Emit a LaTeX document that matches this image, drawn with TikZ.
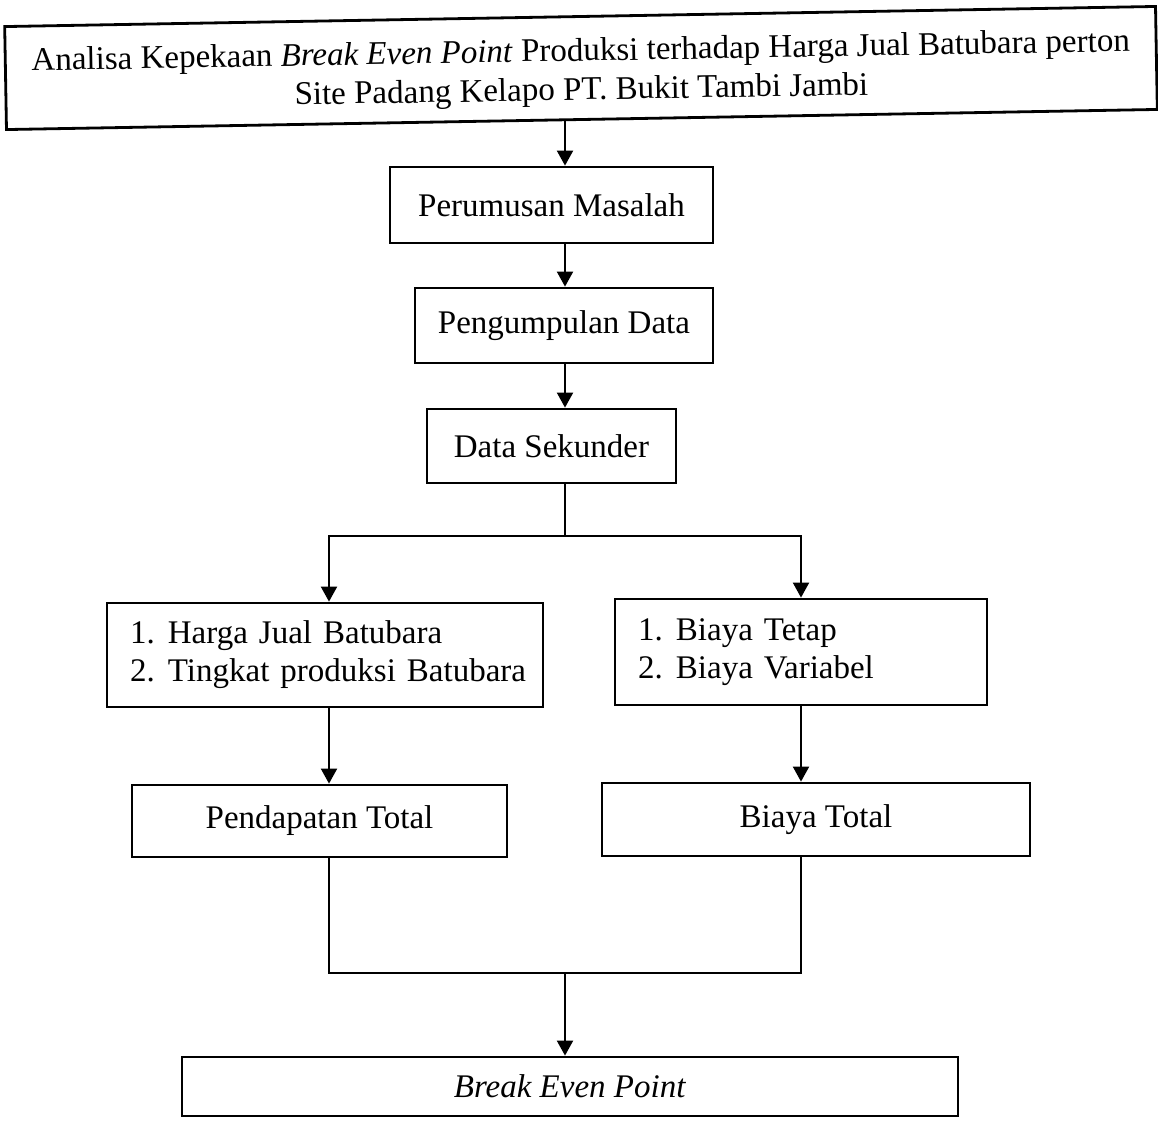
\documentclass[tikz,border=0pt]{standalone}
\usepackage{fontspec}
\setmainfont{Liberation Serif}
\usetikzlibrary{arrows.meta}

\newcommand{\numitem}[2]{\mbox{\makebox[1.15em][l]{#1.}#2}}

\begin{document}
\begin{tikzpicture}[x=0.5pt, y=-0.5pt,
    box/.style={draw, line width=1.4pt, inner sep=0pt, font=\fontsize{16.5}{18}\selectfont},
    listbox/.style={box, align=left, inner xsep=11.5pt, font=\fontsize{16.5}{19}\selectfont},
    link/.style={line width=1pt},
    arrow/.style={link, -{Triangle[length=7.5pt, width=8pt]}}]

    \useasboundingbox (0, 0) rectangle (1158, 1121);

    % Declare the boxes
    \node[box, minimum width=575.5pt, minimum height=51.5pt, align=center, rotate=1,
          font=\fontsize{16.5}{19.5}\selectfont] at (581, 68) (judul)
        {\rule{0pt}{16pt}Analisa Kepekaan \textit{Break Even Point} Produksi terhadap Harga Jual Batubara perton\\
         Site Padang Kelapo PT. Bukit Tambi Jambi};
    \node[box, minimum width=161.5pt, minimum height=38pt] at (551.5, 205) (rumusan) {Perumusan Masalah};
    \node[box, minimum width=149pt, minimum height=37.5pt] at (564, 325.5) (kumpul) {Pengumpulan Data};
    \node[box, minimum width=124.5pt, minimum height=37pt] at (551.5, 446) (sekunder) {Data Sekunder};
    \node[listbox, text width=195pt, minimum height=52pt] at (325, 655) (harga)
        {\numitem{1}{Harga Jual Batubara}\\ \numitem{2}{Tingkat produksi Batubara}};
    \node[listbox, text width=163pt, minimum height=53pt] at (801, 652) (biaya)
        {\numitem{1}{Biaya Tetap}\\ \numitem{2}{Biaya Variabel}};
    \node[box, minimum width=187.5pt, minimum height=36pt] at (319.5, 821) (pendapatan) {Pendapatan Total};
    \node[box, minimum width=214pt, minimum height=36.5pt] at (816, 819.5) (total) {Biaya Total};
    \node[box, minimum width=388pt, minimum height=29.5pt] at (570, 1086.5) (bep) {\textit{Break Even Point}};

    % Declare the lanes
    \coordinate (spine) at (565, 0);
    \coordinate (lanekiri) at (329, 0);
    \coordinate (lanekanan) at (801, 0);
    \coordinate (cabang) at (565, 536);
    \coordinate (gabung) at (565, 973);

    % Declare edges
    \draw[arrow] (judul.south -| spine) -- (rumusan.north -| spine);
    \draw[arrow] (rumusan.south -| spine) -- (kumpul.north -| spine);
    \draw[arrow] (kumpul.south -| spine) -- (sekunder.north -| spine);
    \draw[link] (sekunder.south -| spine) -- (cabang);
    \draw[arrow] (cabang) -| (harga.north -| lanekiri);
    \draw[arrow] (cabang) -| (biaya.north -| lanekanan);
    \draw[arrow] (harga.south -| lanekiri) -- (pendapatan.north -| lanekiri);
    \draw[arrow] (biaya.south -| lanekanan) -- (total.north -| lanekanan);
    \draw[link] (pendapatan.south -| lanekiri) |- (gabung) -| (total.south -| lanekanan);
    \draw[arrow] (gabung) -- (bep.north -| gabung);

\end{tikzpicture}
\end{document}
